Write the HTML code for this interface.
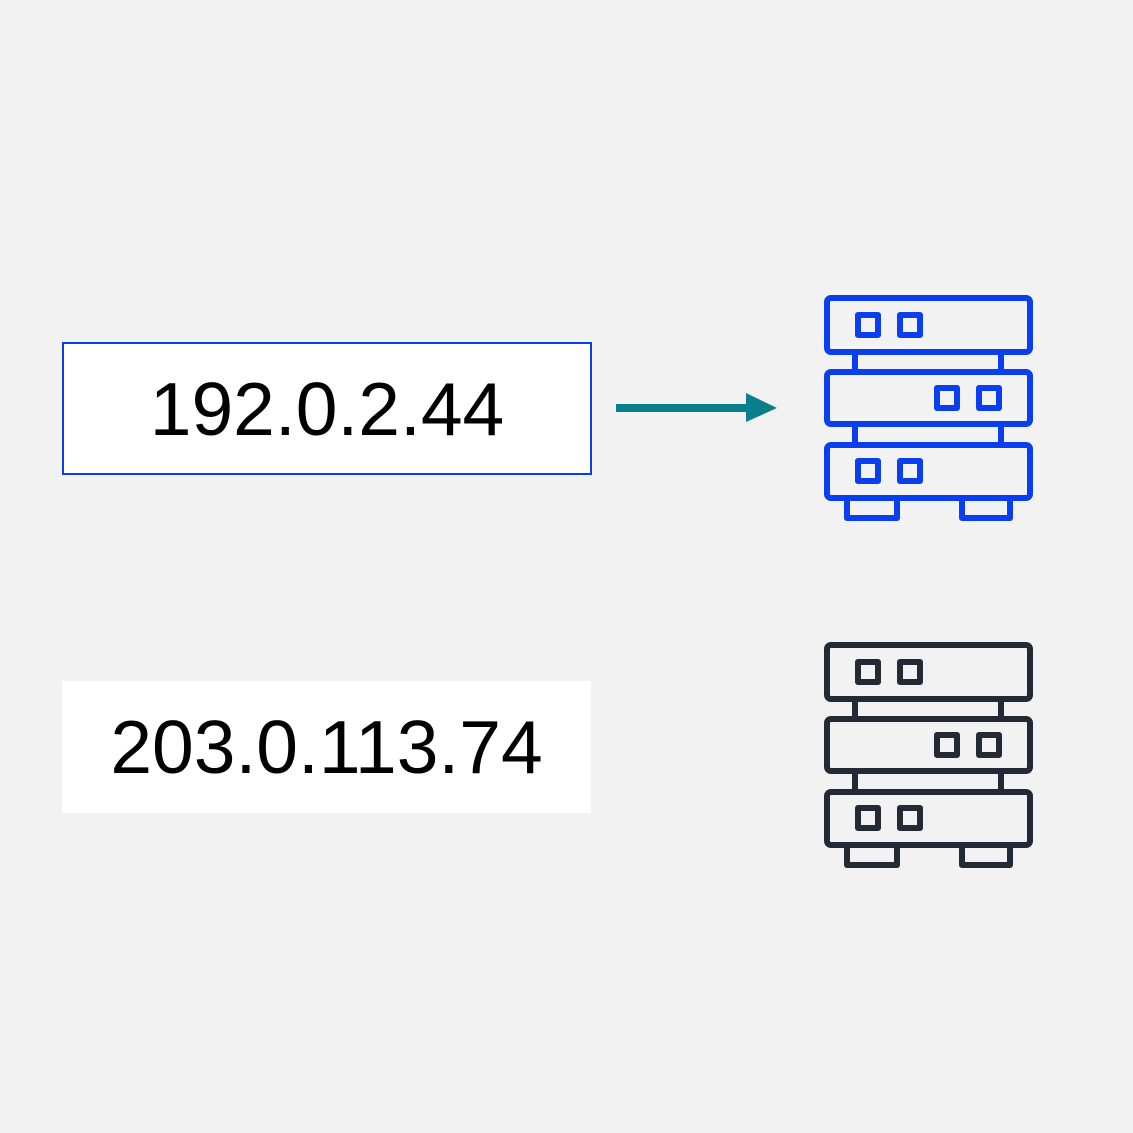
<!DOCTYPE html>
<html><head><style>
body{margin:0;width:1133px;height:1133px;background:#f2f2f2;position:relative;overflow:hidden;font-family:"Liberation Sans",sans-serif}
.b{position:absolute;display:flex;align-items:center;justify-content:center;font-size:75px;color:#000;background:#fff;box-sizing:border-box}
</style></head><body>
<div class="b" style="left:62px;top:342px;width:530px;height:133px;border:2px solid #0a3ff0">192.0.2.44</div>
<div class="b" style="left:62px;top:681px;width:529px;height:132px">203.0.113.74</div>
<svg width="1133" height="1133" style="position:absolute;left:0;top:0">
<line x1="616" y1="408" x2="750" y2="408" stroke="#0a7f8c" stroke-width="8"/>
<polygon points="746,393 777,408 746,422" fill="#0a7f8c"/>
<defs>
<g id="srv" fill="none" stroke-width="6" stroke-linejoin="round">
<rect x="827" y="298" width="203" height="54" rx="4"/>
<rect x="827" y="372" width="203" height="52" rx="4"/>
<rect x="827" y="445" width="203" height="53" rx="4"/>
<line x1="855" y1="352" x2="855" y2="372"/><line x1="1001" y1="352" x2="1001" y2="372"/>
<line x1="855" y1="424" x2="855" y2="445"/><line x1="1001" y1="424" x2="1001" y2="445"/>
<rect x="847" y="498" width="50" height="20"/><rect x="962" y="498" width="48" height="20"/>
<rect x="858" y="315" width="20" height="20"/><rect x="900" y="315" width="20" height="20"/>
<rect x="937" y="388" width="20" height="20"/><rect x="979" y="388" width="20" height="20"/>
<rect x="858" y="461" width="20" height="20"/><rect x="900" y="461" width="20" height="20"/>
</g></defs>
<use href="#srv" stroke="#0a3ff0"/>
<use href="#srv" stroke="#232a36" transform="translate(0,347)"/>
</svg>
</body></html>
